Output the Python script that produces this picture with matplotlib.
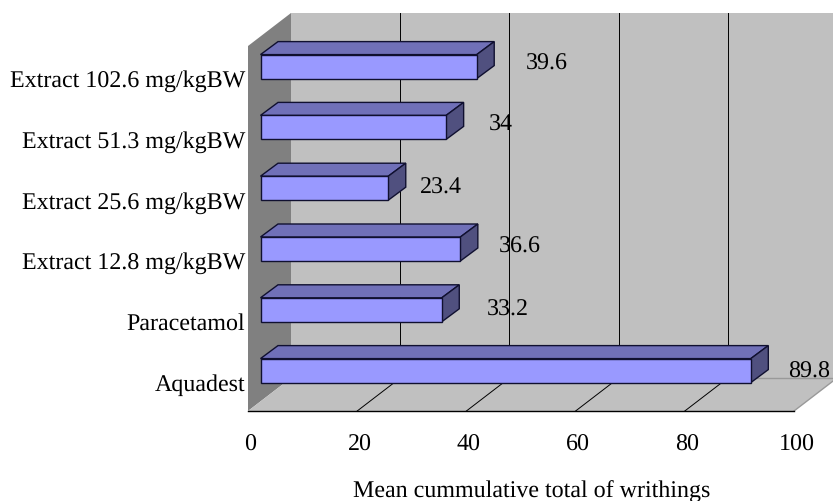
import matplotlib
matplotlib.use('Agg')
import matplotlib.pyplot as plt
from matplotlib.patches import Polygon

categories = ['Aquadest', 'Paracetamol', 'Extract 12.8 mg/kgBW', 'Extract 25.6 mg/kgBW',
              'Extract 51.3 mg/kgBW', 'Extract 102.6 mg/kgBW']
values = [89.8, 33.2, 36.6, 23.4, 34, 39.6]
value_labels = ['89.8', '33.2', '36.6', '23.4', '34', '39.6']
x_ticks = [0, 20, 40, 60, 80, 100]
x_title = 'Mean cummulative total of writhings'

# one value unit / one category step in pixels
PX = 5.46
PY = 60.8
W, H = 833, 501
Y0 = 370.6  # pixel row of the first bar centre
X0 = 248    # pixel column of value 0 on the front edge

plt.rcParams['font.family'] = ['Liberation Serif', 'DejaVu Serif']
plt.rcParams['text.hinting'] = 'none'
FS = 17.3

fig = plt.figure(figsize=(W / 100, H / 100), dpi=100)
ax = fig.add_axes([0, 0, 1, 1])
ax.set_xlim(-X0 / PX, (W - X0) / PX)
ax.set_ylim((Y0 - H) / PY, Y0 / PY)
ax.axis('off')

# walls and floor
wall_dx, wall_dy = 43 / PX, 33 / PY
floor_y = (Y0 - 411) / PY
top_y = (Y0 - 13) / PY
back_y = floor_y + wall_dy
grey = '#c0c0c0'
ax.add_patch(Polygon([(wall_dx, back_y), (100 + wall_dx, back_y), (100 + wall_dx, top_y), (wall_dx, top_y)],
                     fc=grey, ec='none', zorder=1))
ax.add_patch(Polygon([(0, floor_y), (wall_dx, back_y), (wall_dx, top_y), (0, top_y - wall_dy)],
                     fc='#808080', ec='none', zorder=1))
ax.add_patch(Polygon([(0, floor_y), (100, floor_y), (100 + wall_dx, back_y), (wall_dx, back_y)],
                     fc=grey, ec='none', zorder=1))
ax.plot([wall_dx, 100 + wall_dx], [back_y, back_y], color='#999999', lw=1, zorder=1.5)
ax.plot([100, 100 + wall_dx], [floor_y, back_y], color='#999999', lw=1, zorder=1.5)
ax.plot([0, 100], [floor_y, floor_y], color='black', lw=1, zorder=2)

for t in x_ticks[1:-1]:
    ax.plot([t + wall_dx, t + wall_dx], [back_y, top_y], color='black', lw=0.7, zorder=2)
    ax.plot([t, t + wall_dx], [floor_y, back_y], color='black', lw=0.7, zorder=2)

# bars
bar_x0 = 12.5 / PX
half = 12 / PY
dx, dy = 17.5 / PX, 13 / PY
label_dx = [58, 66, 60, 53, 55, 70]
label_dy = [-1, 0, 2, 0, 2, 3]
for i, v in enumerate(values):
    right = bar_x0 + v
    ax.add_patch(Polygon([(bar_x0, i + half), (right, i + half), (right + dx, i + half + dy),
                          (bar_x0 + dx, i + half + dy)], fc='#7070b8', ec='#101030', lw=1, zorder=3))
    ax.add_patch(Polygon([(right, i - half), (right + dx, i - half + dy), (right + dx, i + half + dy),
                          (right, i + half)], fc='#50507f', ec='#101030', lw=1, zorder=3))
    ax.add_patch(Polygon([(bar_x0, i - half), (right, i - half), (right, i + half), (bar_x0, i + half)],
                         fc='#9999ff', ec='#101030', lw=1, zorder=4))
    ax.text(right + label_dx[i] / PX, i + label_dy[i] / PY, value_labels[i], fontsize=FS,
            ha='center', va='center', zorder=5)
    ax.text(-3 / PX, i - 14.5 / PY, categories[i], fontsize=FS, ha='right', va='center', zorder=5)

for t in x_ticks:
    ax.text(t + 2.5 / PX, (Y0 - 445) / PY, str(t), fontsize=FS, ha='center', va='center')
ax.text((531.5 - X0) / PX, (Y0 - 491.5) / PY, x_title, fontsize=FS, ha='center', va='center')

fig.savefig('out.png', dpi=100)
